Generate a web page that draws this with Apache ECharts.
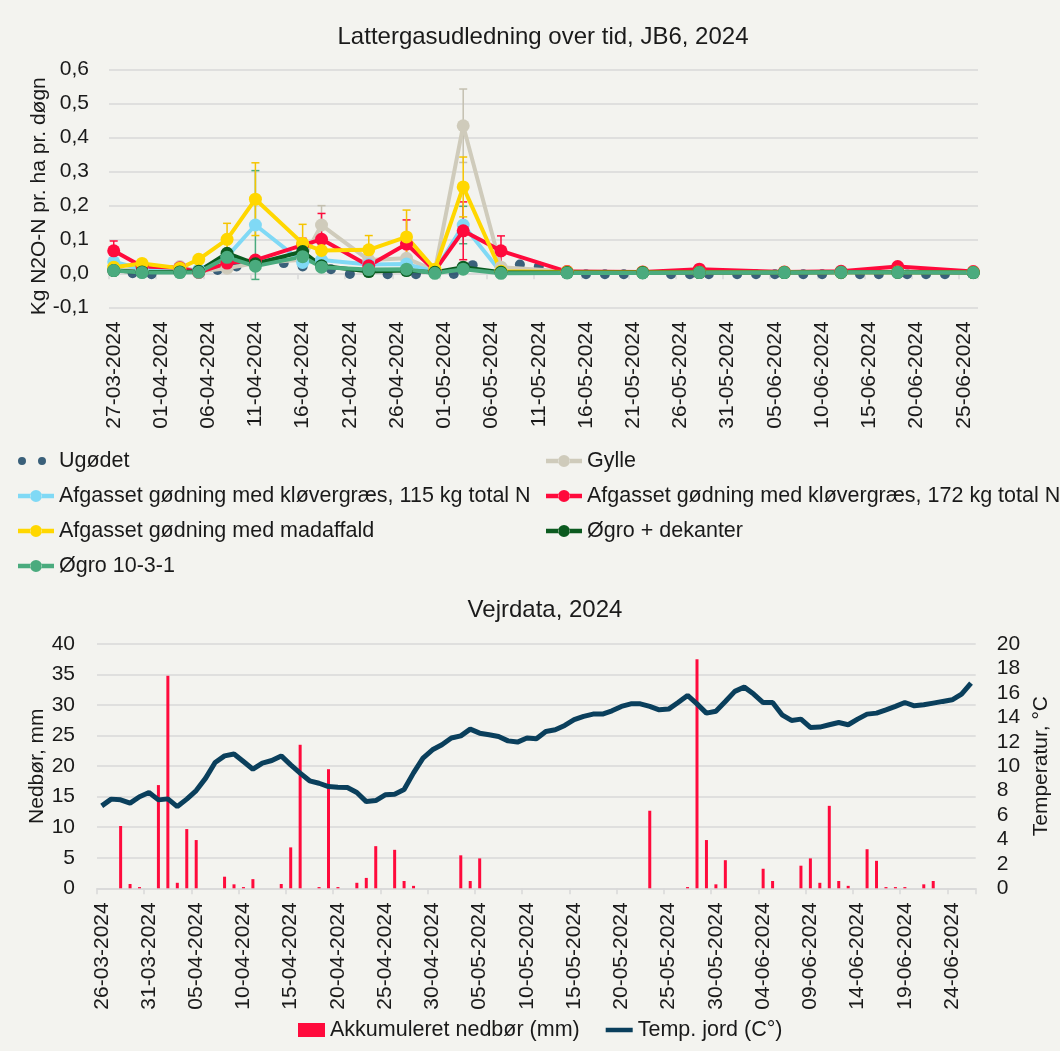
<!DOCTYPE html>
<html>
<head>
<meta charset="utf-8">
<script src="https://cdn.jsdelivr.net/npm/echarts@6.0.0/dist/echarts.min.js"></script>
<style>
  html, body { margin: 0; padding: 0; background: #f3f3ef; }
  #chart { width: 1060px; height: 1051px; }
</style>
</head>
<body>
<div id="chart"></div>
<script>
// --- Lattergas (N2O) data, kg N2O-N pr. ha pr. døgn ---
const n2oDates = ['27-03-2024', '30-03-2024', '03-04-2024', '05-04-2024', '08-04-2024', '11-04-2024',
  '16-04-2024', '18-04-2024', '23-04-2024', '27-04-2024', '30-04-2024', '03-05-2024', '07-05-2024',
  '14-05-2024', '22-05-2024', '28-05-2024', '06-06-2024', '12-06-2024', '18-06-2024', '26-06-2024']
const gylle = [0.01, 0.01, 0.02, 0.005, 0.015, 0.03, 0.04, 0.142, 0.039, 0.044, 0.008, 0.434, 0.018, 0.005, 0.003, 0.004, 0.003, 0.004, 0.005, 0.003]
const klover115 = [0.034, 0.012, 0.01, 0.01, 0.049, 0.142, 0.032, 0.039, 0.026, 0.027, 0.005, 0.142, 0.003, 0.002, 0.002, 0.002, 0.002, 0.003, 0.003, 0.002]
const klover172 = [0.066, 0.02, 0.016, 0.003, 0.03, 0.039, 0.083, 0.1, 0.022, 0.086, 0.008, 0.125, 0.066, 0.005, 0.004, 0.012, 0.004, 0.006, 0.02, 0.005]
const madaffald = [0.018, 0.029, 0.015, 0.041, 0.1, 0.218, 0.088, 0.067, 0.069, 0.107, 0.012, 0.254, 0.006, 0.004, 0.003, 0.003, 0.003, 0.003, 0.004, 0.003]
const dekanter = [0.008, 0.004, 0.004, 0.006, 0.059, 0.028, 0.064, 0.022, 0.005, 0.008, 0.003, 0.018, 0.003, 0.002, 0.002, 0.002, 0.002, 0.003, 0.003, 0.002]
const ogro1031 = [0.008, 0.002, 0.002, 0.003, 0.047, 0.021, 0.049, 0.018, 0.011, 0.012, 0.0, 0.012, 0.0, 0.001, 0.001, 0.002, 0.002, 0.003, 0.003, 0.002]

const ugDates = ['27-03-2024', '29-03-2024', '31-03-2024', '03-04-2024', '05-04-2024', '07-04-2024', '09-04-2024',
  '11-04-2024', '14-04-2024', '16-04-2024', '19-04-2024', '21-04-2024', '23-04-2024', '25-04-2024', '28-04-2024',
  '30-04-2024', '02-05-2024', '04-05-2024', '07-05-2024', '09-05-2024', '11-05-2024', '14-05-2024', '16-05-2024',
  '18-05-2024', '20-05-2024', '22-05-2024', '25-05-2024', '27-05-2024', '29-05-2024', '01-06-2024', '03-06-2024',
  '05-06-2024', '08-06-2024', '10-06-2024', '12-06-2024', '14-06-2024', '16-06-2024', '19-06-2024', '21-06-2024',
  '23-06-2024', '26-06-2024']
const ugodet = [0.005, 0.0, -0.003, 0.005, 0.004, 0.01, 0.02, 0.035, 0.03, 0.02, 0.012, -0.002, 0.004, -0.003, -0.003,
  0.0, -0.002, 0.024, 0.004, 0.026, 0.02, -0.002, -0.003, -0.003, -0.003, -0.003, -0.003, -0.003, -0.003, -0.003, -0.003,
  -0.003, -0.003, -0.003, -0.003, -0.003, -0.003, -0.003, -0.003, -0.003, -0.003]

// error bars: [date, +/- error]
const errGylle = [['18-04-2024', 0.057], ['03-05-2024', 0.108]]
const errKlover115 = [['11-04-2024', 0.16], ['03-05-2024', 0.055]]
const errKlover172 = [['27-03-2024', 0.029], ['16-04-2024', 0.02], ['18-04-2024', 0.076], ['27-04-2024', 0.071], ['03-05-2024', 0.085], ['07-05-2024', 0.044]]
const errMadaffald = [['03-04-2024', 0.01], ['08-04-2024', 0.047], ['11-04-2024', 0.107], ['16-04-2024', 0.056], ['23-04-2024', 0.042], ['27-04-2024', 0.079], ['03-05-2024', 0.088]]

const n2oTicks = [-0.1, 0, 0.1, 0.2, 0.3, 0.4, 0.5, 0.6]

// --- Vejrdata, daily from 26-03-2024 ---
const rain = [0, 0, 10.2, 0.7, 0.2, 0, 16.9, 34.8, 0.9, 9.7, 7.9, 0, 0, 1.9, 0.65, 0.2, 1.5, 0, 0, 0.7,
  6.7, 23.5, 0, 0.2, 19.5, 0.2, 0, 0.9, 1.7, 6.9, 0, 6.3, 1.2, 0.4, 0, 0, 0, 0, 5.4, 1.2,
  4.9, 0, 0, 0, 0, 0, 0, 0, 0, 0, 0, 0, 0, 0, 0, 0, 0, 0, 12.7, 0,
  0, 0, 0.2, 37.5, 7.9, 0.65, 4.6, 0, 0, 0, 3.2, 1.2, 0, 0, 3.7, 4.9, 0.9, 13.5, 1.2, 0.4,
  0, 6.4, 4.5, 0.2, 0.2, 0.2, 0, 0.65, 1.2, 0, 0, 0, 0]
const soilTemp = [6.75, 7.3, 7.24, 6.97, 7.5, 7.84, 7.24, 7.32, 6.69, 7.3, 8.0, 9.02, 10.3, 10.84, 11.0, 10.38, 9.75, 10.25, 10.46, 10.84,
  10.1, 9.43, 8.8, 8.6, 8.33, 8.28, 8.25, 7.84, 7.1, 7.18, 7.65, 7.7, 8.08, 9.45, 10.66, 11.34, 11.75, 12.3, 12.48, 13.03,
  12.7, 12.57, 12.43, 12.07, 11.97, 12.3, 12.24, 12.84, 12.98, 13.33, 13.8, 14.07, 14.26, 14.26, 14.53, 14.89, 15.1, 15.1, 14.89, 14.61,
  14.67, 15.21, 15.79, 15.1, 14.34, 14.5, 15.3, 16.12, 16.47, 15.9, 15.21, 15.21, 14.2, 13.74, 13.85, 13.17, 13.2, 13.39, 13.57, 13.39,
  13.85, 14.26, 14.34, 14.61, 14.89, 15.21, 14.94, 15.02, 15.16, 15.3, 15.43, 15.9, 16.8]

const FONT = '"Liberation Sans", Arial, sans-serif'
const TXT = '#1a1a1a'
const GRID = '#d9d9d9'

const pad = n => String(n).padStart(2, '0')
function dayList(start, n) {
  const [d, m, y] = start.split('-').map(Number)
  const out = []
  for (let k = 0; k < n; k++) {
    const t = new Date(Date.UTC(y, m - 1, d + k))
    out.push(pad(t.getUTCDate()) + '-' + pad(t.getUTCMonth() + 1) + '-' + t.getUTCFullYear())
  }
  return out
}
const topDays = dayList('27-03-2024', 92)
const weatherDays = dayList('26-03-2024', 93)

const lineSeries = (name, vals, color) => ({
  name: name, type: 'line', xAxisIndex: 0, yAxisIndex: 0,
  data: n2oDates.map((d, k) => [d, vals[k]]),
  symbol: 'circle', symbolSize: 13, showAllSymbol: true,
  lineStyle: { width: 4, color: color }, itemStyle: { color: color },
  emphasis: { disabled: true }
})

const errSeries = (name, vals, errs, color) => ({
  name: name + ' (fejl)', type: 'custom', xAxisIndex: 0, yAxisIndex: 0, silent: true,
  data: errs.map(([d, e]) => {
    const v = vals[n2oDates.indexOf(d)]
    return [d, v - e, v + e]
  }),
  encode: { x: 0, y: [1, 2] },
  renderItem: (params, api) => {
    const lo = api.coord([api.value(0), api.value(1)])
    const hi = api.coord([api.value(0), api.value(2)])
    const st = { stroke: color, lineWidth: 1.5 }
    return {
      type: 'group', children: [
        { type: 'line', shape: { x1: lo[0], y1: lo[1], x2: hi[0], y2: hi[1] }, style: st },
        { type: 'line', shape: { x1: lo[0] - 4, y1: lo[1], x2: lo[0] + 4, y2: lo[1] }, style: st },
        { type: 'line', shape: { x1: hi[0] - 4, y1: hi[1], x2: hi[0] + 4, y2: hi[1] }, style: st }
      ]
    }
  }
})

const names = {
  ug: 'Ugødet', gy: 'Gylle',
  k115: 'Afgasset gødning med kløvergræs, 115 kg total N',
  k172: 'Afgasset gødning med kløvergræs, 172 kg total N',
  mad: 'Afgasset gødning med madaffald',
  dek: 'Øgro + dekanter', o1031: 'Øgro 10-3-1',
  rain: 'Akkumuleret nedbør (mm)', temp: 'Temp. jord (C°)'
}
const colors = {
  ug: '#0b3b5c', gy: '#cfcbbb', k115: '#80d9f5', k172: '#ff0a3c',
  mad: '#ffd700', dek: '#0b5a1f', o1031: '#4aab7e', rain: '#ff0a3c', temp: '#0a3f5c'
}

// legend icons (boxes kept at the item's aspect by the corner points)
const ugIcon = 'path://M0,0L0.01,0M36,14L35.99,14M0,7a4,4 0 1,0 8,0a4,4 0 1,0 -8,0M20,7a4,4 0 1,0 8,0a4,4 0 1,0 -8,0'
const lineIcon = 'path://M0,0L0.01,0M36,14L35.99,14M0,4.8L12.5,4.8L12.5,9.2L0,9.2ZM23.5,4.8L36,4.8L36,9.2L23.5,9.2Z' +
  'M12,7a6,6 0 1,0 12,0a6,6 0 1,0 -12,0'
const tempIcon = 'path://M0,0L0.01,0M28,14L27.99,14M0,4.6L28,4.6L28,9.4L0,9.4Z'
const legendText = { fontSize: 21.5, fontFamily: FONT, color: TXT, lineHeight: 21 }
const li = name => ({ name: name, icon: lineIcon })

const option = {
  backgroundColor: '#f3f3ef',
  animation: false,
  textStyle: { fontFamily: FONT },
  title: [
    { text: 'Lattergasudledning over tid, JB6, 2024', left: 538, top: 20, textAlign: 'center',
      textStyle: { fontSize: 24, fontWeight: 'normal', color: TXT, fontFamily: FONT } },
    { text: 'Vejrdata, 2024', left: 540, top: 593, textAlign: 'center',
      textStyle: { fontSize: 24, fontWeight: 'normal', color: TXT, fontFamily: FONT } }
  ],
  legend: [
    { orient: 'vertical', left: 18, top: 450, padding: 0, itemWidth: 36, itemHeight: 14, itemGap: 13,
      selectedMode: false, textStyle: legendText,
      data: [{ name: names.ug, icon: ugIcon }, li(names.k115), li(names.mad), li(names.o1031)] },
    { orient: 'vertical', left: 546, top: 450, padding: 0, itemWidth: 36, itemHeight: 14, itemGap: 13,
      selectedMode: false, textStyle: legendText,
      data: [li(names.gy), li(names.k172), li(names.dek)] },
    { orient: 'horizontal', left: 298, top: 1019, padding: 0, itemWidth: 27, itemHeight: 14, itemGap: 26,
      selectedMode: false, textStyle: legendText,
      data: [{ name: names.rain, icon: 'rect' }, { name: names.temp, icon: tempIcon }] }
  ],
  grid: [
    { left: 109, top: 69.3, width: 869, height: 238, containLabel: false },
    { left: 97, top: 644, width: 882, height: 244.3, containLabel: false }
  ],
  xAxis: [
    { type: 'category', gridIndex: 0, data: topDays, boundaryGap: true, position: 'bottom',
      axisLine: { show: false, onZero: false }, axisTick: { show: false },
      axisLabel: { interval: 4, rotate: 90, margin: 14, fontSize: 21, color: TXT, fontFamily: FONT } },
    { type: 'category', gridIndex: 0, data: topDays, boundaryGap: true, position: 'bottom',
      axisLine: { show: true, onZero: true, lineStyle: { color: GRID, width: 1.5 } },
      axisTick: { show: true, interval: 4, length: 6, lineStyle: { color: GRID, width: 1.5 } },
      axisLabel: { show: false } },
    { type: 'category', gridIndex: 1, data: weatherDays, boundaryGap: true,
      axisLine: { show: true, lineStyle: { color: GRID, width: 1.5 } },
      axisTick: { show: true, interval: 4, length: 6, lineStyle: { color: GRID, width: 1.5 } },
      axisLabel: { interval: 4, rotate: 90, margin: 14, fontSize: 21, color: TXT, fontFamily: FONT } }
  ],
  yAxis: [
    { type: 'value', gridIndex: 0, min: n2oTicks[0], max: n2oTicks[n2oTicks.length - 1], interval: 0.1,
      name: 'Kg N2O-N pr. ha pr. døgn', nameLocation: 'middle', nameRotate: 90, nameGap: 59,
      nameMoveOverlap: false,
      nameTextStyle: { fontSize: 21, color: TXT, fontFamily: FONT, padding: [0, 16, 0, 0] },
      axisLine: { show: false }, axisTick: { show: false },
      axisLabel: { margin: 20, fontSize: 21, color: TXT, fontFamily: FONT,
        formatter: v => v.toFixed(1).replace('.', ',') },
      splitLine: { lineStyle: { color: GRID, width: 1.5 } } },
    { type: 'value', gridIndex: 1, min: 0, max: 40, interval: 5,
      name: 'Nedbør, mm', nameLocation: 'middle', nameRotate: 90, nameGap: 49,
      nameMoveOverlap: false,
      nameTextStyle: { fontSize: 21, color: TXT, fontFamily: FONT },
      axisLine: { show: false }, axisTick: { show: false },
      axisLabel: { margin: 22, fontSize: 21, color: TXT, fontFamily: FONT },
      splitLine: { lineStyle: { color: GRID, width: 1.5 } } },
    { type: 'value', gridIndex: 1, position: 'right', min: 0, max: 20, interval: 2,
      name: 'Temperatur, °C', nameLocation: 'middle', nameRotate: 90, nameGap: 50,
      nameTextStyle: { fontSize: 21, color: TXT, fontFamily: FONT },
      axisLine: { show: false }, axisTick: { show: false },
      axisLabel: { margin: 21, fontSize: 21, color: TXT, fontFamily: FONT },
      splitLine: { show: false } }
  ],
  series: [
    errSeries(names.gy, gylle, errGylle, '#c4c0b0'),
    errSeries(names.k115, klover115, errKlover115, colors.o1031),
    errSeries(names.k172, klover172, errKlover172, colors.k172),
    errSeries(names.mad, madaffald, errMadaffald, '#f5c400'),
    { name: names.ug, type: 'scatter', xAxisIndex: 0, yAxisIndex: 0,
      data: ugDates.map((d, k) => [d, ugodet[k]]),
      symbol: 'circle', symbolSize: 10, itemStyle: { color: colors.ug }, emphasis: { disabled: true } },
    lineSeries(names.gy, gylle, colors.gy),
    lineSeries(names.k115, klover115, colors.k115),
    lineSeries(names.k172, klover172, colors.k172),
    lineSeries(names.mad, madaffald, colors.mad),
    lineSeries(names.dek, dekanter, colors.dek),
    lineSeries(names.o1031, ogro1031, colors.o1031),
    { name: names.rain, type: 'bar', xAxisIndex: 2, yAxisIndex: 1, data: rain,
      barWidth: 3, itemStyle: { color: colors.rain }, emphasis: { disabled: true } },
    { name: names.temp, type: 'line', xAxisIndex: 2, yAxisIndex: 2, data: soilTemp,
      symbol: 'none', lineStyle: { width: 5, color: colors.temp }, itemStyle: { color: colors.temp },
      emphasis: { disabled: true } }
  ]
}

const chart = echarts.init(document.getElementById('chart'))
chart.setOption(option)
</script>
</body>
</html>
